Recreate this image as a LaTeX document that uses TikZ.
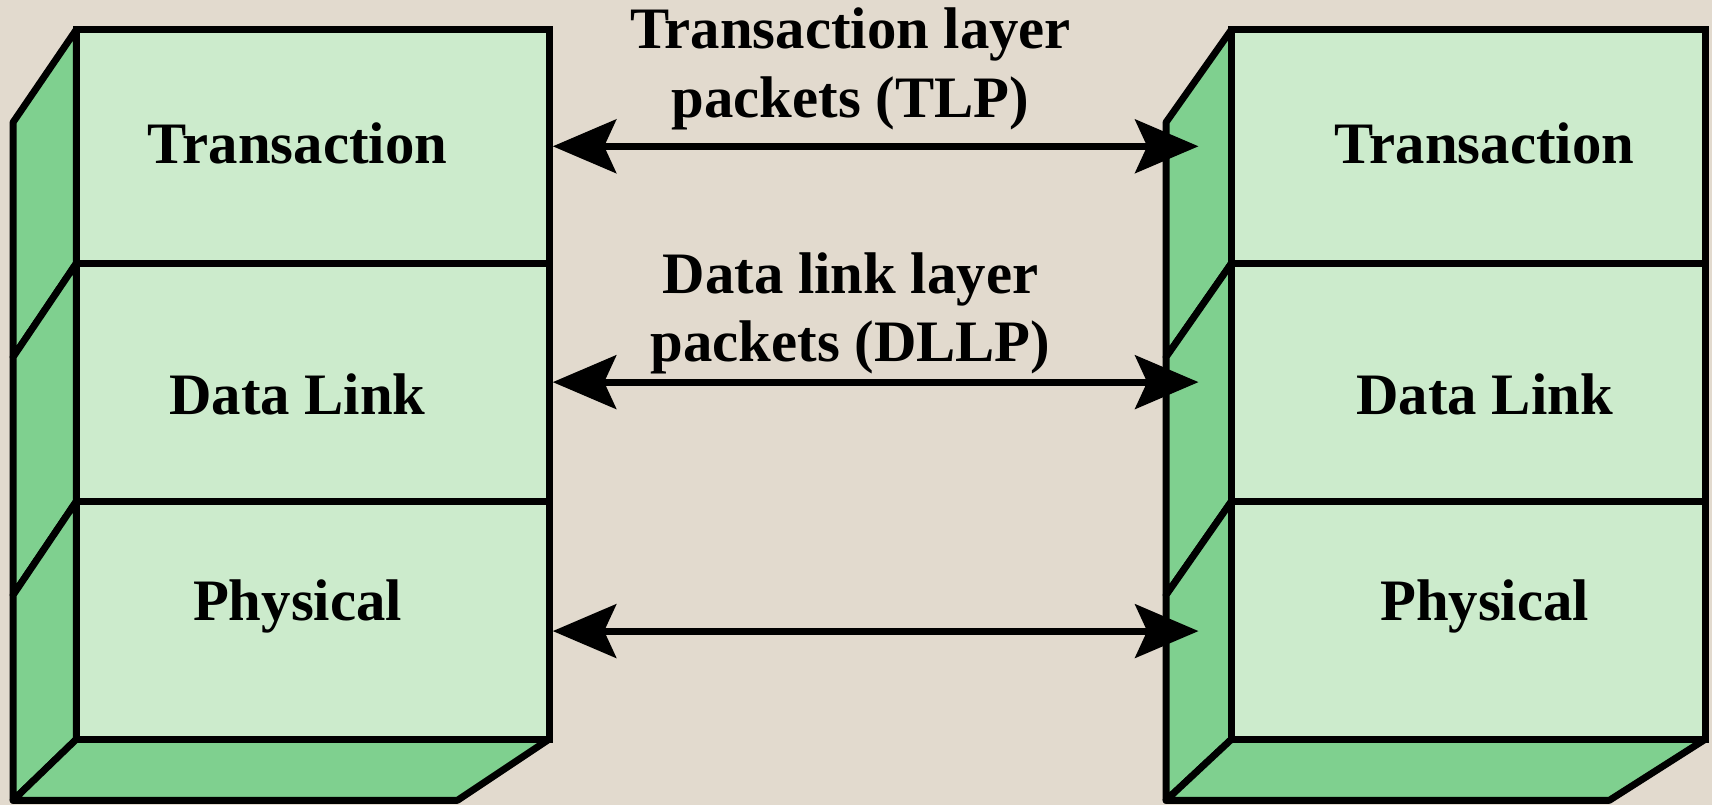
\documentclass[tikz,border=0pt]{standalone}
\usepackage{fontspec}
\setmainfont{Liberation Serif}
\usetikzlibrary{arrows.meta}
\definecolor{stone}{RGB}{226,218,206}
\definecolor{facegreen}{RGB}{204,235,204}
\definecolor{sidegreen}{RGB}{127,208,143}
\tikzset{
  layer/.style={draw, fill=facegreen, line width=1.8pt, minimum width=4.33cm, inner sep=0pt},
  sideface/.style={draw, fill=sidegreen, line width=1.8pt, line join=round},
  layername/.style={font=\fontsize{15.3}{18}\selectfont\bfseries, anchor=base, inner sep=0pt},
  pktname/.style={font=\fontsize{15.3}{17.8}\selectfont\bfseries, align=center, inner sep=0pt},
  link/.style={line width=1.8pt, {Stealth[length=5.8mm,width=4.9mm,inset=1.1mm]}-{Stealth[length=5.8mm,width=4.9mm,inset=1.1mm]}}
}

\begin{document}
\begin{tikzpicture}[x=0.01cm, y=-0.01cm]

    \path[use as bounding box, fill=stone] (0,0) rectangle (1568,737);

    % left stack
    \filldraw[sideface] (70,27) -- (12,112) -- (12,327) -- (70,241) -- cycle;
    \filldraw[sideface] (70,241) -- (12,327) -- (12,545) -- (70,459) -- cycle;
    \filldraw[sideface] (70,459) -- (12,545) -- (12,733) -- (70,677) -- cycle;
    \filldraw[sideface] (70,677) -- (503,677) -- (419,733) -- (12,733) -- cycle;

    \node[layer, minimum height=2.14cm] (tL) at (286.5,134) {};
    \node[layer, minimum height=2.18cm] (dL) at (286.5,350) {};
    \node[layer, minimum height=2.18cm] (pL) at (286.5,568) {};

    \node[layername] (tLtxt) at (272.5,150) {Transaction};
    \node[layername] (dLtxt) at (272.5,380) {Data Link};
    \node[layername] (pLtxt) at (272.5,568) {Physical};

    % right stack
    \filldraw[sideface] (1128,27) -- (1068,112) -- (1068,327) -- (1128,241) -- cycle;
    \filldraw[sideface] (1128,241) -- (1068,327) -- (1068,545) -- (1128,459) -- cycle;
    \filldraw[sideface] (1128,459) -- (1068,545) -- (1068,733) -- (1128,677) -- cycle;
    \filldraw[sideface] (1128,677) -- (1562,677) -- (1474,733) -- (1068,733) -- cycle;

    \node[layer, minimum width=4.34cm, minimum height=2.14cm] (tR) at (1345,134) {};
    \node[layer, minimum width=4.34cm, minimum height=2.18cm] (dR) at (1345,350) {};
    \node[layer, minimum width=4.34cm, minimum height=2.18cm] (pR) at (1345,568) {};

    \node[layername] (tRtxt) at (1359.7,150) {Transaction};
    \node[layername] (dRtxt) at (1359.7,380) {Data Link};
    \node[layername] (pRtxt) at (1359.7,568) {Physical};

    % packets between the layers
    \draw[link] (tL.east) -- ([xshift=-0.27cm]tR.west);
    \draw[link] (dL.east) -- ([xshift=-0.27cm]dR.west);
    \draw[link] ([yshift=-0.1cm]pL.east) -- ([xshift=-0.27cm,yshift=-0.1cm]pR.west);

    \node[pktname] (tlp) at (779,63) {Transaction layer\\packets (TLP)};
    \node[pktname] (dllp) at (779,287) {Data link layer\\packets (DLLP)};

\end{tikzpicture}
\end{document}
